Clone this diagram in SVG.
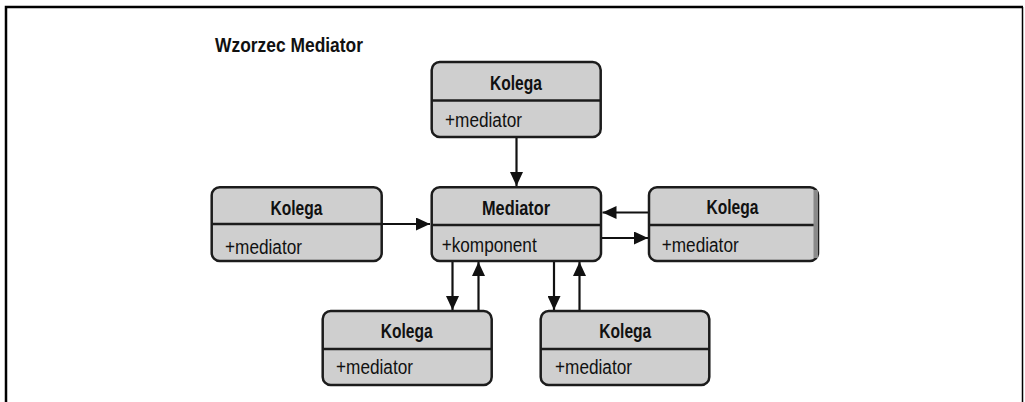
<svg xmlns="http://www.w3.org/2000/svg" width="1025" height="402" viewBox="0 0 1025 402">
<style>
.box{fill:#cfcfcf;stroke:#1c1c1c;stroke-width:2.5}
.div{stroke:#1c1c1c;stroke-width:2.5}
.name{font-family:"Liberation Sans",Arial,sans-serif;font-weight:bold;font-size:20px;fill:#111;text-anchor:middle}
.attr{font-family:"Liberation Sans",Arial,sans-serif;font-size:20px;fill:#111}
.conn{stroke:#111;stroke-width:2.2;fill:none;marker-end:url(#ah)}
</style>
<defs>
<marker id="ah" markerUnits="userSpaceOnUse" markerWidth="14" markerHeight="13" refX="14" refY="6.5" orient="auto">
<path d="M0,0 L14,6.5 L0,13 z" fill="#111"/>
</marker>
</defs>
<rect width="1025" height="402" fill="#fff"/>
<g id="frame" fill="none" stroke="#000">
<path d="M6,402 V7 H1023" stroke-width="2.5"/>
<path d="M1022.5,7 V402" stroke-width="1.5"/>
</g>
<text id="title" x="215" y="52" font-family="'Liberation Sans',Arial,sans-serif" font-weight="bold" font-size="20" fill="#111" textLength="148" lengthAdjust="spacingAndGlyphs">Wzorzec Mediator</text>
<g id="connectors">
<line class="conn" x1="516.5" y1="137" x2="516.5" y2="186"/>
<line class="conn" x1="381.7" y1="224" x2="430" y2="224"/>
<line class="conn" x1="649" y1="212.5" x2="602.5" y2="212.5"/>
<line class="conn" x1="601" y1="238" x2="648" y2="238"/>
<line class="conn" x1="452.5" y1="261" x2="452.5" y2="310"/>
<line class="conn" x1="478.5" y1="311" x2="478.5" y2="262"/>
<line class="conn" x1="554" y1="261" x2="554" y2="310"/>
<line class="conn" x1="579.5" y1="311" x2="579.5" y2="262"/>
</g>
<g id="kolega-top">
<rect class="box" x="431.7" y="62" width="169" height="75" rx="8"/>
<line class="div" x1="431.7" y1="100.5" x2="600.7" y2="100.5"/>
<text class="name" x="516" y="90" textLength="52" lengthAdjust="spacingAndGlyphs">Kolega</text>
<text class="attr" x="445" y="127" textLength="77" lengthAdjust="spacingAndGlyphs">+mediator</text>
</g>
<g id="kolega-left">
<rect class="box" x="211.7" y="187.3" width="170" height="73.7" rx="8"/>
<line class="div" x1="211.7" y1="224" x2="381.7" y2="224"/>
<text class="name" x="296.5" y="214.5" textLength="52" lengthAdjust="spacingAndGlyphs">Kolega</text>
<text class="attr" x="225" y="254" textLength="77" lengthAdjust="spacingAndGlyphs">+mediator</text>
</g>
<g id="mediator">
<rect class="box" x="431.7" y="187.3" width="169.3" height="73.7" rx="8"/>
<line class="div" x1="431.7" y1="225" x2="601" y2="225"/>
<text class="name" x="516" y="214.5" textLength="68" lengthAdjust="spacingAndGlyphs">Mediator</text>
<text class="attr" x="441.7" y="251.5" textLength="95" lengthAdjust="spacingAndGlyphs">+komponent</text>
</g>
<g id="kolega-right">
<rect class="box" x="649" y="187.3" width="169" height="73.7" rx="8"/>
<line class="div" x1="649" y1="225" x2="818" y2="225"/>
<rect x="813.5" y="190" width="4.5" height="68" fill="#8a8a8a"/>
<text class="name" x="732.5" y="213.5" textLength="52" lengthAdjust="spacingAndGlyphs">Kolega</text>
<text class="attr" x="661.7" y="252" textLength="77" lengthAdjust="spacingAndGlyphs">+mediator</text>
</g>
<g id="kolega-bottom-left">
<rect class="box" x="322.7" y="311" width="169" height="74" rx="8"/>
<line class="div" x1="322.7" y1="349" x2="491.7" y2="349"/>
<text class="name" x="406.7" y="337.5" textLength="52" lengthAdjust="spacingAndGlyphs">Kolega</text>
<text class="attr" x="336" y="373.5" textLength="77" lengthAdjust="spacingAndGlyphs">+mediator</text>
</g>
<g id="kolega-bottom-right">
<rect class="box" x="540.7" y="311" width="168.6" height="74" rx="8"/>
<line class="div" x1="540.7" y1="349" x2="709.3" y2="349"/>
<text class="name" x="625.3" y="337.5" textLength="52" lengthAdjust="spacingAndGlyphs">Kolega</text>
<text class="attr" x="555" y="373.5" textLength="77" lengthAdjust="spacingAndGlyphs">+mediator</text>
</g>
</svg>
